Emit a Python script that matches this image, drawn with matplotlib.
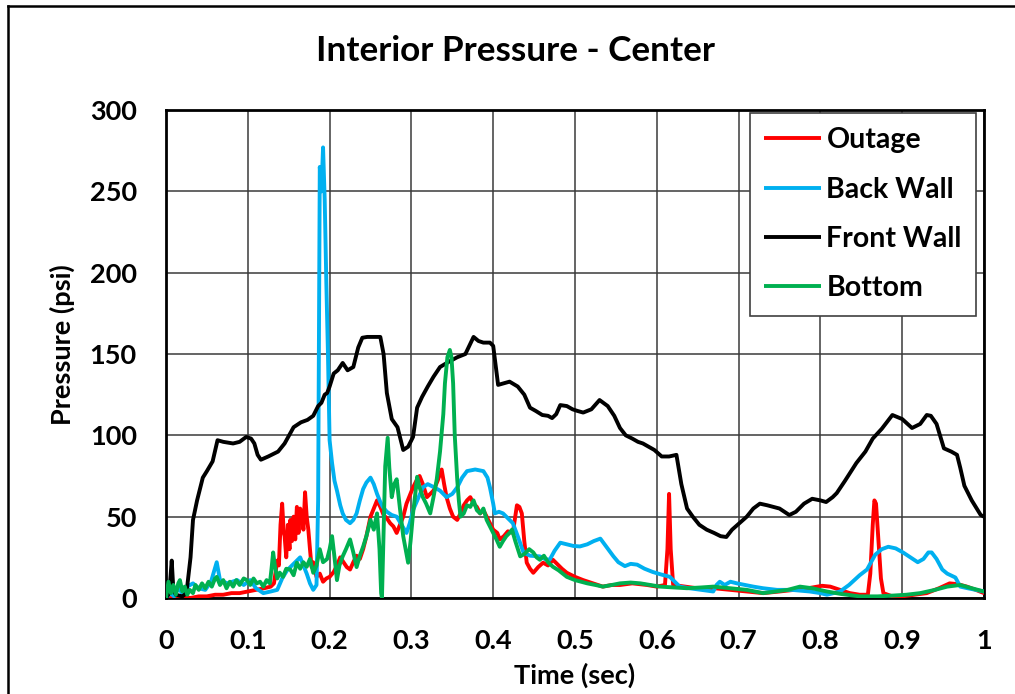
import numpy as np
import matplotlib
matplotlib.use("Agg")
import matplotlib.pyplot as plt
from matplotlib.lines import Line2D

# ---------------- data (time [s], pressure [psi]) ----------------
outage = [(0,0),(0.01,0),(0.02,1),(0.03,0),(0.04,1),(0.05,1),(0.06,2),(0.07,2),(0.08,3),(0.09,3),(0.1,4),
    (0.11,5),(0.12,6),(0.128,7),(0.132,9),(0.136,23),(0.138,20),(0.14,45),(0.142,58),(0.144,40),(0.145,38),
    (0.147,25),(0.149,45),(0.151,30),(0.152,48),(0.154,35),(0.156,50),(0.158,36),(0.16,56),(0.162,40),
    (0.164,55),(0.166,52),(0.168,42),(0.17,65),(0.172,50),(0.174,42),(0.176,30),(0.178,19),(0.18,22),
    (0.182,17),(0.184,13),(0.188,15),(0.192,10),(0.196,12),(0.2,13),(0.205,16),(0.209,20),(0.213,25),
    (0.217,22),(0.221,19),(0.225,17.5),(0.229,22),(0.233,26),(0.237,24),(0.241,30),(0.245,38),(0.25,50),
    (0.254,55),(0.258,60),(0.262,56),(0.266,51),(0.27,49),(0.274,46),(0.278,44),(0.282,40),(0.286,45),
    (0.29,50),(0.294,58),(0.298,63),(0.302,68),(0.306,72),(0.31,75),(0.314,70),(0.319,62),(0.323,64),
    (0.327,66),(0.332,72),(0.337,79),(0.34,70),(0.343,62),(0.347,55),(0.351,50),(0.356,48),(0.36,52),
    (0.364,57),(0.368,60),(0.372,62),(0.376,58),(0.38,56),(0.384,52),(0.388,54),(0.392,50),(0.396,46),
    (0.4,42),(0.405,40),(0.408,36),(0.413,38),(0.418,41),(0.424,40),(0.427,50),(0.429,57),(0.432,56),
    (0.435,52),(0.438,35),(0.441,21.7),(0.445,18),(0.449,15.5),(0.455,19),(0.461,21.7),(0.467,20),
    (0.473,23.5),(0.478,21),(0.484,18),(0.49,15.5),(0.5,13),(0.51,11),(0.522,9),(0.534,7),(0.545,8),
    (0.555,8),(0.57,9),(0.588,8),(0.6,7),(0.61,8),(0.613,30),(0.615,64),(0.617,30),(0.62,8),(0.635,7),
    (0.649,6),(0.67,6),(0.69,5),(0.71,4),(0.73,3),(0.75,4),(0.767,5),(0.785,6),(0.802,7.5),(0.812,7),
    (0.824,5),(0.836,3),(0.848,2),(0.858,2),(0.861,15),(0.864,45),(0.866,60),(0.868,58),(0.871,35),
    (0.874,12),(0.877,3),(0.888,1),(0.9,1),(0.915,2),(0.93,3),(0.945,6),(0.958,9),(0.968,8.5),(0.979,7),
    (0.99,5),(1.0,3)]

back_wall = [(0,0),(0.005,3),(0.01,1),(0.015,6),(0.02,3),(0.026,7),(0.033,9),(0.04,6),(0.048,5),(0.055,10),
    (0.062,22),(0.066,11),(0.075,9),(0.087,11),(0.095,8),(0.103,11),(0.11,6),(0.119,3),(0.128,4),(0.136,5),
    (0.142,12),(0.148,17),(0.156,21),(0.164,25),(0.168,20),(0.172,15),(0.176,9),(0.18,5),(0.184,8),
    (0.186,60),(0.188,265),(0.19,250),(0.192,277),(0.194,245),(0.196,194),(0.198,150),(0.2,97),(0.203,83),
    (0.206,72),(0.209,66),(0.213,57),(0.216,52),(0.22,48),(0.225,46),(0.229,48),(0.233,52),(0.237,60),
    (0.241,67),(0.245,71),(0.25,74),(0.254,70),(0.258,64),(0.262,59),(0.265,56),(0.27,53),(0.276,51),
    (0.282,50),(0.288,45),(0.294,40),(0.298,46),(0.302,54),(0.308,61),(0.314,68),(0.32,70),(0.328,68),
    (0.335,66),(0.343,62),(0.35,64),(0.356,68),(0.362,74),(0.368,78),(0.378,79),(0.388,78),(0.393,74),
    (0.396,68),(0.4,58),(0.402,52),(0.407,53),(0.412,52),(0.418,49),(0.424,46),(0.43,38),(0.437,28),
    (0.445,26),(0.457,25.6),(0.463,24),(0.469,23.5),(0.475,29),(0.482,34),(0.49,33),(0.498,32),
    (0.506,31.7),(0.515,33),(0.523,35),(0.531,36.5),(0.539,31),(0.547,25.6),(0.553,22),(0.561,19.6),
    (0.568,21),(0.576,20.5),(0.585,18),(0.595,16),(0.605,14.5),(0.616,13),(0.622,10),(0.628,7),(0.64,6),
    (0.655,5),(0.669,4),(0.673,8),(0.677,10),(0.683,8),(0.69,10),(0.698,9),(0.708,8),(0.718,7),(0.73,6),
    (0.747,5),(0.765,5),(0.787,4),(0.8,3),(0.808,2),(0.816,3),(0.824,4),(0.835,8),(0.848,14),(0.857,17.5),
    (0.862,22),(0.867,26.6),(0.875,30),(0.883,31.5),(0.892,30.5),(0.901,28),(0.91,25),(0.919,22),
    (0.926,24),(0.932,28),(0.936,28),(0.942,24),(0.949,17.5),(0.955,15),(0.965,12.6),(0.971,7),(0.98,6),
    (0.99,5),(1.0,4)]

front_wall = [(0,0),(0.004,3),(0.007,23),(0.009,5),(0.012,2),(0.02,1),(0.025,3),(0.03,25),(0.033,48),
    (0.038,60),(0.045,74),(0.05,78),(0.057,84),(0.063,97),(0.07,96),(0.082,95),(0.09,96),(0.098,99),
    (0.104,98),(0.108,95),(0.112,88),(0.116,85),(0.125,87),(0.137,90),(0.145,95),(0.156,105),(0.165,108),
    (0.173,109.5),(0.18,112),(0.186,118),(0.19,120),(0.194,125),(0.197,126),(0.2,130),(0.205,138),
    (0.21,140),(0.216,144.5),(0.222,140),(0.229,142),(0.235,154),(0.24,160),(0.246,160.5),(0.262,160.5),
    (0.266,150),(0.27,126),(0.276,110),(0.283,105),(0.29,91),(0.296,93),(0.302,99),(0.307,117),
    (0.313,123.6),(0.32,130),(0.327,136),(0.335,142),(0.345,145),(0.356,148),(0.366,150),(0.376,160.5),
    (0.382,158),(0.388,157),(0.396,157),(0.4,155),(0.406,131),(0.413,132),(0.42,133),(0.43,130),
    (0.438,125),(0.445,117),(0.452,115),(0.46,112.5),(0.467,112),(0.472,110.6),(0.477,113),(0.482,118.6),
    (0.49,118),(0.497,116),(0.503,115),(0.51,114),(0.52,116),(0.53,121.7),(0.54,118),(0.548,112),
    (0.555,104.5),(0.562,100),(0.57,98),(0.577,96),(0.583,95),(0.59,93),(0.597,91),(0.606,87),(0.615,87),
    (0.624,88),(0.63,70),(0.637,55),(0.644,50),(0.652,45),(0.661,42),(0.67,40),(0.678,38),(0.685,37.5),
    (0.692,42),(0.701,46),(0.71,50),(0.718,55),(0.726,58),(0.735,57),(0.75,55),(0.762,51),(0.77,53),
    (0.78,58),(0.79,61),(0.8,60),(0.807,59),(0.815,62),(0.82,64.5),(0.83,72),(0.844,83),(0.855,90),
    (0.864,98),(0.875,104),(0.888,112.5),(0.9,110),(0.912,104.5),(0.922,107),(0.93,112.5),(0.935,112),
    (0.942,107),(0.951,92),(0.96,90),(0.967,88),(0.971,80),(0.976,69),(0.985,60),(0.996,51),(1.0,50)]

bottom = [(0,0),(0.003,10),(0.006,3),(0.009,8),(0.012,2),(0.015,9),(0.017,11),(0.02,4),(0.023,7),(0.026,2),
    (0.029,5),(0.033,3),(0.036,8),(0.04,5),(0.044,9),(0.048,6),(0.052,10),(0.056,7),(0.06,12),(0.062,13),
    (0.066,8),(0.07,11),(0.074,6),(0.078,10),(0.082,7),(0.086,11),(0.09,8),(0.095,12),(0.099,11),(0.103,8),
    (0.107,12),(0.111,9),(0.115,10),(0.119,7),(0.123,11),(0.127,9),(0.129,18),(0.131,28),(0.133,20),
    (0.136,12),(0.139,15.6),(0.143,13),(0.147,18),(0.152,17.5),(0.156,14),(0.16,21.7),(0.164,18),
    (0.168,22),(0.172,19.2),(0.176,24),(0.18,15.5),(0.184,20),(0.188,30),(0.192,22),(0.197,24),(0.2,30),
    (0.203,38),(0.206,25),(0.209,11),(0.212,20),(0.216,25.6),(0.22,30),(0.225,36),(0.229,28),(0.233,19),
    (0.237,26),(0.241,31.6),(0.245,38),(0.25,48),(0.254,42),(0.258,52),(0.261,30),(0.263,3),(0.264,0),
    (0.266,40),(0.268,81),(0.271,98.5),(0.273,80),(0.276,62),(0.279,70),(0.282,73),(0.286,55),(0.29,38),
    (0.293,30),(0.296,21.7),(0.299,35),(0.302,52),(0.305,65),(0.307,74.5),(0.31,68),(0.314,62),(0.318,58),
    (0.323,52),(0.327,62),(0.331,73),(0.335,90),(0.339,113),(0.341,132),(0.344,148),(0.347,152.5),
    (0.349,148),(0.351,132),(0.353,100),(0.356,73),(0.358,60),(0.36,50),(0.364,52),(0.368,57),(0.372,56),
    (0.376,60),(0.38,54),(0.384,52),(0.388,55),(0.392,48),(0.396,44),(0.4,40),(0.404,36),(0.408,31.5),
    (0.412,35),(0.416,38),(0.42,40),(0.423,42),(0.427,35),(0.433,25.6),(0.438,27),(0.444,30),(0.449,28),
    (0.453,25),(0.457,23.5),(0.462,26),(0.467,22),(0.473,19.2),(0.48,17),(0.49,13),(0.5,11),(0.515,9),
    (0.525,8),(0.534,7),(0.545,8),(0.555,9),(0.568,9.5),(0.58,9),(0.592,8),(0.604,7),(0.62,6.5),(0.637,6),
    (0.655,6.5),(0.669,7),(0.69,6),(0.71,5),(0.73,3),(0.745,4),(0.76,5),(0.775,7),(0.79,6),(0.808,4),
    (0.825,2.5),(0.848,1),(0.87,1),(0.889,1.5),(0.905,2),(0.922,3),(0.94,5),(0.955,7),(0.971,8),(0.985,6),
    (1.0,4)]

series_names = ["Outage", "Back Wall", "Front Wall", "Bottom"]
series_data = [outage, back_wall, front_wall, bottom]
series_colors = ["#FF0000", "#00B0F0", "#000000", "#00B050"]

x_ticks = [0, 0.1, 0.2, 0.3, 0.4, 0.5, 0.6, 0.7, 0.8, 0.9, 1]
x_tick_labels = ["0", "0.1", "0.2", "0.3", "0.4", "0.5", "0.6", "0.7", "0.8", "0.9", "1"]
y_ticks = [0, 50, 100, 150, 200, 250, 300]

title = "Interior Pressure - Center"
x_label = "Time (sec)"
y_label = "Pressure (psi)"

# ---------------- figure ----------------
plt.rcParams['font.family'] = ['Lato', 'DejaVu Sans']
plt.rcParams['font.weight'] = 'bold'

W, H = 1015, 694
fig = plt.figure(figsize=(W / 100, H / 100), dpi=100)
ax = fig.add_axes([166 / W, 1 - 598 / H, (984 - 166) / W, (598 - 110) / H])

for name, data, col in zip(series_names, series_data, series_colors):
    arr = np.array(data, dtype=float)
    ax.plot(arr[:, 0], arr[:, 1], color=col, lw=2.8, label=name,
            solid_joinstyle='round', solid_capstyle='round', zorder=3)

ax.set_xlim(0, 1)
ax.set_ylim(0, 300)
ax.set_xticks(x_ticks)
ax.set_xticklabels(x_tick_labels)
ax.set_yticks(y_ticks)
ax.grid(True, color='#3a3a3a', lw=1.1, zorder=1)
ax.set_axisbelow(True)
ax.tick_params(axis='both', length=0, labelsize=19.5)
ax.tick_params(axis='x', pad=22)
ax.tick_params(axis='y', pad=21)
for lab in ax.get_xticklabels() + ax.get_yticklabels():
    lab.set_fontweight('bold')
for sp in ax.spines.values():
    sp.set_linewidth(2.0)
    sp.set_color('black')

leg = ax.legend(loc='upper right', bbox_to_anchor=(976 / W, 1 - 113 / H), bbox_transform=fig.transFigure,
                borderaxespad=0, fancybox=False, framealpha=1, edgecolor='#404040',
                prop={'size': 20.5, 'weight': 'bold'}, handlelength=2.0, handletextpad=0.2,
                labelspacing=0.82, borderpad=0.5)
leg.get_frame().set_linewidth(1.2)
for line in leg.get_lines():
    line.set_linewidth(2.8)
    line.set_solid_capstyle('butt')

fig.text(516 / W, 1 - 51 / H, title, ha='center', va='center', fontsize=25.3, fontweight='bold')
fig.text(575 / W, 1 - 675 / H, x_label, ha='center', va='center', fontsize=19.5, fontweight='bold')
fig.text(62 / W, 1 - 345 / H, y_label, ha='center', va='center', rotation=90, fontsize=19.5, fontweight='bold')

# figure border (left and top edges visible; the rest is cropped away)
fig.add_artist(Line2D([8 / W, 8 / W], [0, 1 - 6 / H], transform=fig.transFigure, color='black', lw=1.8))
fig.add_artist(Line2D([8 / W, 1], [1 - 6 / H, 1 - 6 / H], transform=fig.transFigure, color='black', lw=1.8))

fig.savefig("out.png", dpi=100)
